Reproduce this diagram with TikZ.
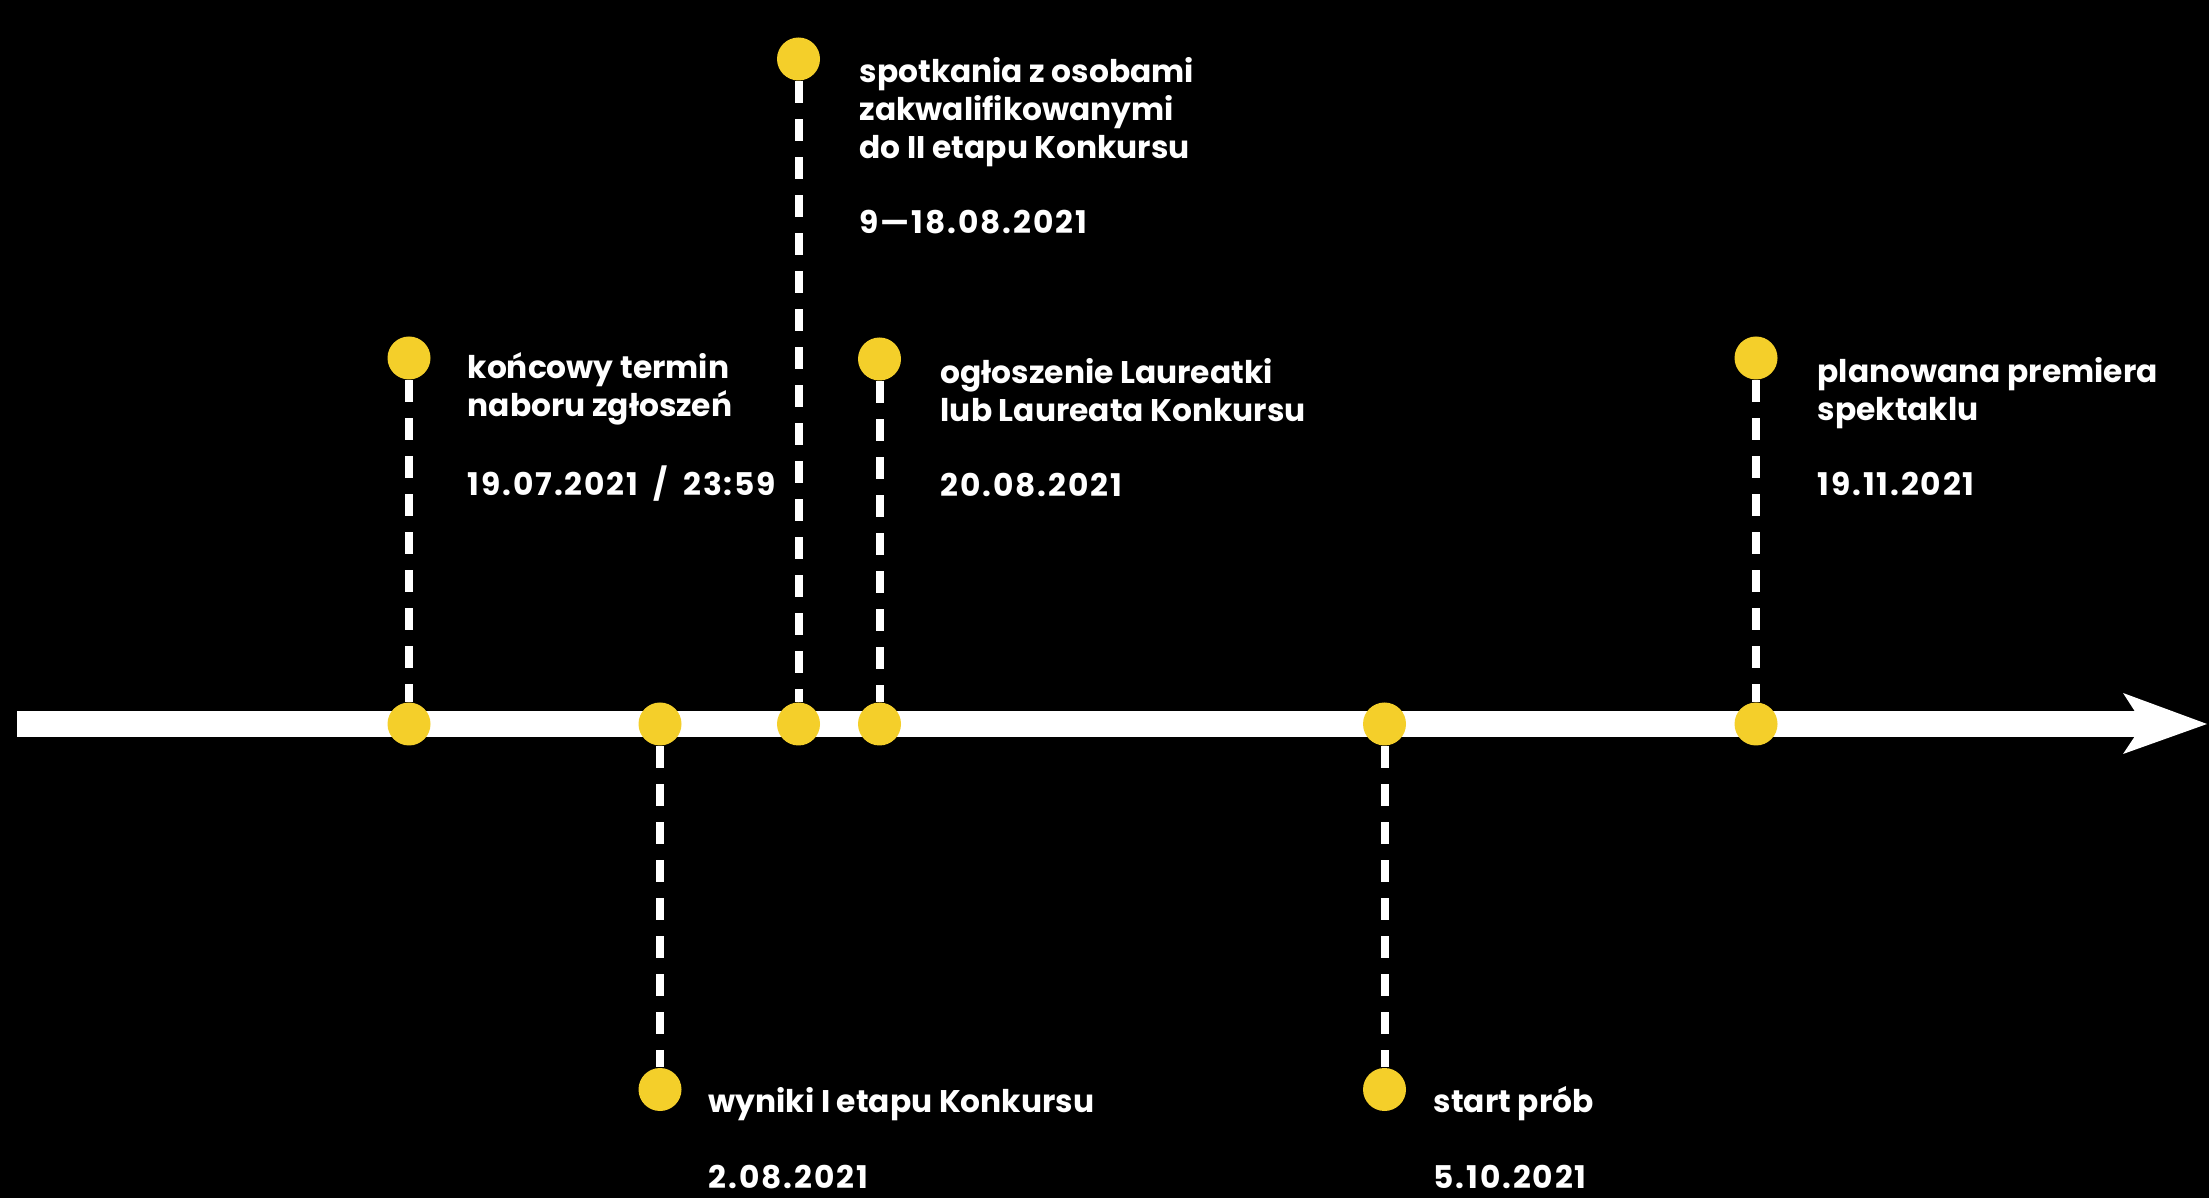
\documentclass[tikz,border=0pt]{standalone}
\usepackage{fontspec}
\setmainfont{Poppins}
\definecolor{dotyellow}{RGB}{244,207,42}
\newcommand{\datum}[1]{{\addfontfeature{LetterSpace=6}#1}}

\begin{document}
\begin{tikzpicture}[
	dot/.style={circle,fill=dotyellow,inner sep=0pt,minimum size=0.43cm},
	stem/.style={white,line width=0.08cm,dash pattern=on 0.22cm off 0.16cm},
	lbl/.style={white,font=\bfseries\fontsize{8.9pt}{10.8pt}\selectfont,align=left,anchor=base west,inner sep=0pt}]
	\useasboundingbox (0,0) rectangle (22.09,11.98);
	\fill[black] (0,0) rectangle (22.09,11.98);
	\fill[white] (0.17,4.61) rectangle (21.5,4.87);
	\fill[white] (21.23,5.05) -- (22.07,4.74) -- (21.23,4.44) -- (21.43,4.74) -- cycle;
	\node[dot] (a1) at (4.09,4.74) {};
	\node[dot] (a2) at (6.60,4.74) {};
	\node[dot] (a3) at (7.985,4.74) {};
	\node[dot] (a4) at (8.795,4.74) {};
	\node[dot] (a5) at (13.845,4.74) {};
	\node[dot] (a6) at (17.56,4.74) {};
	\node[dot] (e1) at (4.09,8.40) {};
	\node[dot] (e2) at (6.60,1.085) {};
	\node[dot] (e3) at (7.985,11.39) {};
	\node[dot] (e4) at (8.795,8.39) {};
	\node[dot] (e5) at (13.845,1.085) {};
	\node[dot] (e6) at (17.56,8.40) {};
	\draw[stem] (e1) -- (a1);
	\draw[stem] (a2) -- (e2);
	\draw[stem] (e3) -- (a3);
	\draw[stem] (e4) -- (a4);
	\draw[stem] (a5) -- (e5);
	\draw[stem] (e6) -- (a6);
	\node[lbl] (l1) at (4.67,7.02) {końcowy termin\\naboru zgłoszeń\\[0.38cm]\datum{19.07.2021\hspace{0.07cm} / \hspace{0.07cm}23:59}};
	\node[lbl] (l2) at (7.08,0.10) {wyniki I etapu Konkursu\\[0.38cm]\datum{2.08.2021}};
	\node[lbl] (l3) at (8.59,9.64) {spotkania z osobami\\zakwalifikowanymi\\do II etapu Konkursu\\[0.38cm]\datum{9—18.08.2021}};
	\node[lbl] (l4) at (9.40,7.01) {ogłoszenie Laureatki\\lub Laureata Konkursu\\[0.38cm]\datum{20.08.2021}};
	\node[lbl] (l5) at (14.33,0.10) {start prób\\[0.38cm]\datum{5.10.2021}};
	\node[lbl] (l6) at (18.17,7.02) {planowana premiera\\spektaklu\\[0.38cm]\datum{19.11.2021}};
\end{tikzpicture}
\end{document}
